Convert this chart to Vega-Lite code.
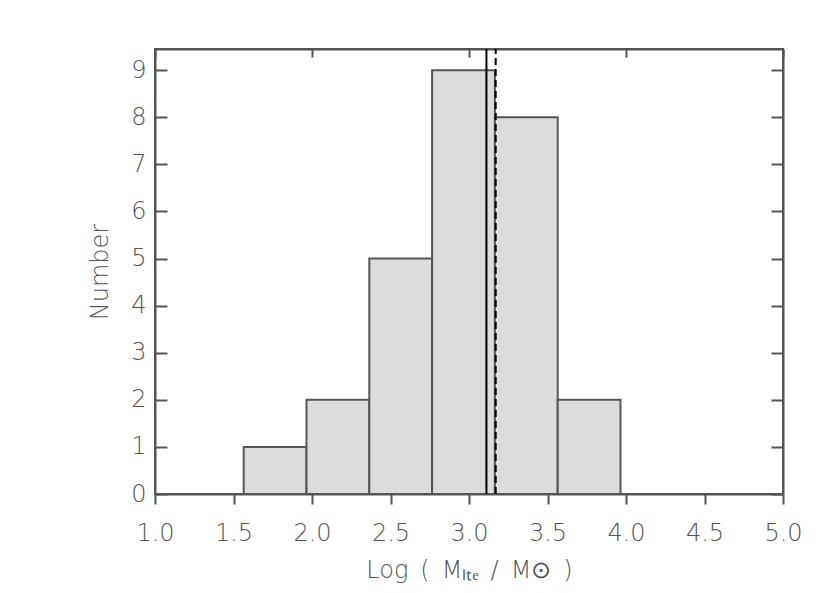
{
  "$schema": "https://vega.github.io/schema/vega-lite/v6.json",
  "width": 628,
  "height": 445,
  "autosize": {"type": "none"},
  "padding": {"left": 155, "top": 49, "right": 47, "bottom": 99},
  "config": {
    "view": {"stroke": "#555555", "strokeWidth": 2},
    "font": "DejaVu Sans",
    "axis": {
      "grid": false,
      "domainColor": "#555555",
      "domainWidth": 2,
      "tickColor": "#555555",
      "tickWidth": 2,
      "labelColor": "#555555",
      "labelFont": "DejaVu Sans",
      "labelFontWeight": 200,
      "labelFontSize": 24,
      "labelFlush": false,
      "titleColor": "#555555",
      "titleFont": "DejaVu Sans",
      "titleFontWeight": 200,
      "titleFontSize": 24
    }
  },
  "resolve": {"axis": {"x": "independent", "y": "independent"}},
  "layer": [
    {
      "data": {
        "values": [
          {"lo": 1.565, "hi": 1.965, "count": 1},
          {"lo": 1.965, "hi": 2.365, "count": 2},
          {"lo": 2.365, "hi": 2.765, "count": 5},
          {"lo": 2.765, "hi": 3.165, "count": 9},
          {"lo": 3.165, "hi": 3.565, "count": 8},
          {"lo": 3.565, "hi": 3.965, "count": 2}
        ]
      },
      "mark": {"type": "rect", "fill": "#dcdcdc", "stroke": "#555555", "strokeWidth": 2},
      "encoding": {
        "x": {
          "field": "lo",
          "type": "quantitative",
          "scale": {"domain": [1, 5], "nice": false, "zero": false},
          "axis": {
            "orient": "bottom",
            "values": [1, 1.5, 2, 2.5, 3, 3.5, 4, 4.5, 5],
            "format": ".1f",
            "tickSize": 10,
            "labelPadding": 17,
            "title": "Log\u2002(\u2002Mₗₜₑ\u2002/\u2002M⊙\u2002)",
            "titlePadding": 13
          }
        },
        "x2": {"field": "hi"},
        "y": {
          "field": "count",
          "type": "quantitative",
          "scale": {"domain": [0, 9.45], "nice": false},
          "axis": {
            "orient": "left",
            "values": [0, 1, 2, 3, 4, 5, 6, 7, 8, 9],
            "tickSize": -12,
            "labelPadding": 21,
            "title": "Number",
            "titlePadding": 18
          }
        },
        "y2": {"datum": 0}
      }
    },
    {
      "data": {"values": [{"v": 3.111}]},
      "mark": {"type": "rule", "color": "black", "strokeWidth": 2},
      "encoding": {
        "x": {
          "field": "v",
          "type": "quantitative",
          "axis": {
            "orient": "top",
            "values": [1, 2, 3, 4, 5],
            "labels": false,
            "tickSize": -8,
            "title": null
          }
        }
      }
    },
    {
      "data": {"values": [{"v": 3.17}]},
      "mark": {"type": "rule", "color": "black", "strokeWidth": 2, "strokeDash": [7, 4]},
      "encoding": {
        "x": {"field": "v", "type": "quantitative", "axis": null},
        "y": {
          "datum": 0,
          "type": "quantitative",
          "axis": {
            "orient": "right",
            "values": [0, 1, 2, 3, 4, 5, 6, 7, 8, 9],
            "labels": false,
            "tickSize": -12,
            "title": null
          }
        },
        "y2": {"datum": 9.45}
      }
    }
  ]
}
